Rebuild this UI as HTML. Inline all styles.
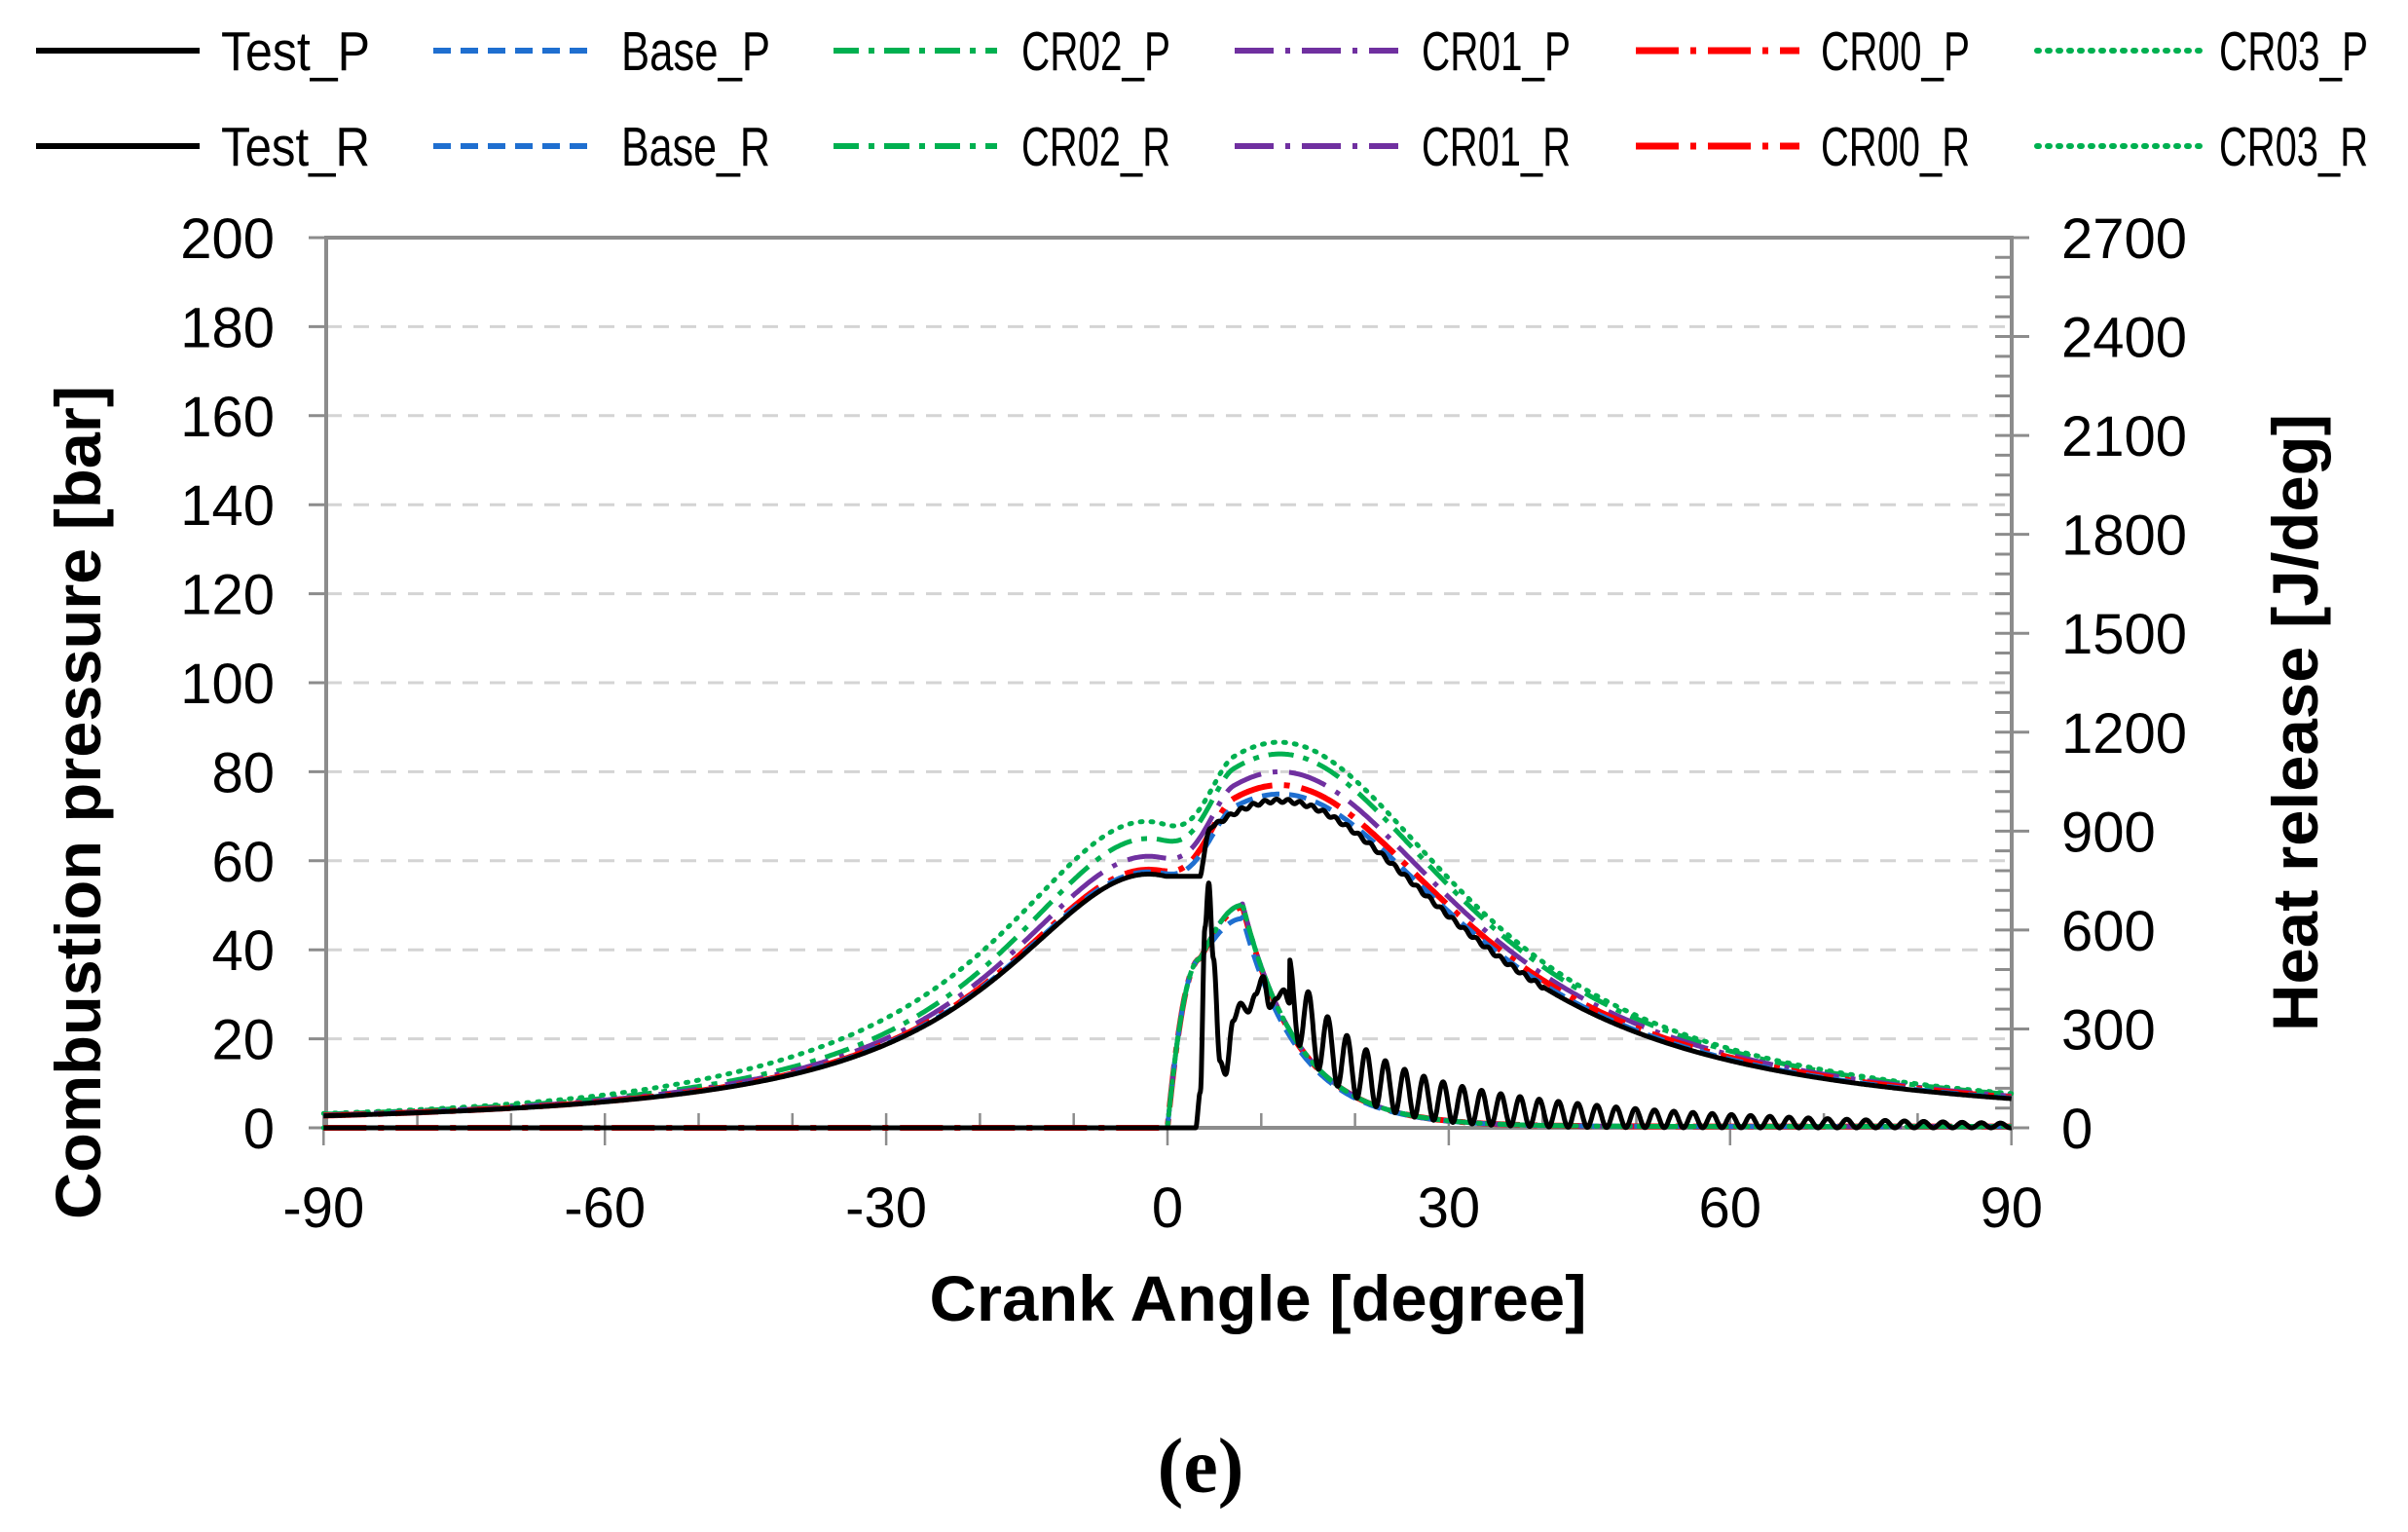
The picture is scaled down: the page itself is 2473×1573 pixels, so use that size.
<!DOCTYPE html>
<html><head><meta charset="utf-8"><style>html,body{margin:0;padding:0;background:#fff}svg{display:block}</style></head>
<body>
<svg id="s" width="2473" height="1573" viewBox="0 0 2473 1573" xmlns="http://www.w3.org/2000/svg">
<rect width="2473" height="1573" fill="#fff"/>
<g id="grid"></g>
<g id="axes"></g>
<g id="curves" fill="none" stroke-linejoin="round"></g>
<g font-family="'Liberation Sans', sans-serif" fill="#000">
 <g id="legend" font-size="57"></g>
 <g id="ticklabels" font-size="58"></g>
 <text x="0" y="0" font-weight="bold" font-size="66" textLength="856" lengthAdjust="spacingAndGlyphs" transform="translate(103,824) rotate(-90)" text-anchor="middle">Combustion pressure [bar]</text>
 <text x="0" y="0" font-weight="bold" font-size="66" textLength="634" lengthAdjust="spacingAndGlyphs" transform="translate(2380,742) rotate(-90)" text-anchor="middle">Heat release [J/deg]</text>
 <text x="1292" y="1356" font-weight="bold" font-size="66" textLength="675" lengthAdjust="spacingAndGlyphs" text-anchor="middle">Crank Angle [degree]</text>
 <text x="1233" y="1532" font-family="'Liberation Serif', serif" font-weight="bold" font-size="80" text-anchor="middle">(e)</text>
</g>
</svg>
<script>
const NS="http://www.w3.org/2000/svg";
function el(p,t,a,txt){const e=document.createElementNS(NS,t);for(const k in a)e.setAttribute(k,a[k]);if(txt!==undefined)e.textContent=txt;document.getElementById(p).appendChild(e);return e;}
const X=t=>1199+t*9.63, Y=p=>1158-p*4.57;
const L=335,R=2066,T=244,B=1158;
for(let v=20;v<=180;v+=20) el('grid','line',{x1:L,x2:R,y1:Y(v),y2:Y(v),stroke:'#d4d4d4','stroke-width':3,'stroke-dasharray':'16 12'});
const ax='#8c8c8c';
el('axes','rect',{x:L,y:T,width:R-L,height:B-T,fill:'none',stroke:ax,'stroke-width':4});
for(let v=0;v<=200;v+=20) el('axes','line',{x1:L-18,x2:L,y1:Y(v),y2:Y(v),stroke:ax,'stroke-width':3});
for(let j=0;j<=2700;j+=60){const y=B-j/2700*(B-T);const maj=j%300===0;el('axes','line',{x1:R-17,x2:maj?R+18:R,y1:y,y2:y,stroke:ax,'stroke-width':3});}
for(let t=-90;t<=90;t+=10){const maj=t%30===0;el('axes','line',{x1:X(t),x2:X(t),y1:maj?B+18:B-15,y2:maj?B-15:B,stroke:ax,'stroke-width':2.5});}
for(let v=0;v<=200;v+=20) el('ticklabels','text',{x:282,y:Y(v)+21,'text-anchor':'end'},String(v));
for(let j=0;j<=2700;j+=300){const y=B-j/2700*(B-T);el('ticklabels','text',{x:2117,y:y+21},String(j));}
for(let t=-90;t<=90;t+=30) el('ticklabels','text',{x:X(t),y:1260,'text-anchor':'middle'},String(t));
const S={
 Test:{c:'#000',w:5,d:'none'},
 Base:{c:'#1f6fd0',w:5,d:'18 10'},
 CR02:{c:'#00b050',w:5,d:'26 10 6 10'},
 CR01:{c:'#7030a0',w:5,d:'40 12 5 12'},
 CR00:{c:'#ff0000',w:6,d:'44 12 6 12'},
 CR03:{c:'#00b050',w:5,d:'2 9',cap:'round'}
};
const order=['Test','Base','CR02','CR01','CR00','CR03'];
const lx=[37,445,856,1268,1680,2092],tx=[227,638,1049,1460,1870,2279];
order.forEach((k,i)=>{[['P',52],['R',150]].forEach(([s,y])=>{
 const st=S[k];el('legend','line',{x1:lx[i],x2:lx[i]+168,y1:y,y2:y,stroke:st.c,'stroke-width':st.w+1,'stroke-dasharray':st.d,'stroke-linecap':st.cap||'butt'});
 const name=k+'_'+s;el('legend','text',{x:tx[i],y:y+20,textLength:name.length*25.5,lengthAdjust:'spacingAndGlyphs'},name);
});});
const sq=x=>x*x;
const lor=(t,a,c,w)=>a/(1+sq((t-c)/w));
const ss=x=>x<=0?0:x>=1?1:x*x*(3-2*x);
function P(t,a1,a2,ts,d,c1){
 const l1=lor(t,a1,c1===undefined?-2:c1,19.6);
 const l2=lor(t,a2,12,24.4);
 return l1+(l2-l1)*ss((t-ts)/d);
}
function path(f,dt){let s='';for(let t=-90;t<=90+1e-9;t+=dt){s+=(s?'L':'M')+X(t).toFixed(1)+','+Y(f(t)).toFixed(1);}return s;}
function draw(k,f,dt){const st=S[k];el('curves','path',{d:path(f,dt||0.2),stroke:st.c,'stroke-width':st.w,'stroke-dasharray':st.d,'stroke-linecap':st.cap||'butt'});}
function simR(t,pk){
 if(t<=0)return 0;
 if(t<3.5)return 38*(1-sq(1-t/3.5));
 if(t<8)return 38+(pk-38)*Math.sin((t-3.5)/4.5*Math.PI/2);
 return pk*Math.exp(-(t-8)/6)+0.3;
}
const tp=[[3,0],[3.5,8],[4,45],[4.4,55],[4.9,38],[5.6,15],[6.2,12],[7,24],[7.8,28],[8.6,26],[9.4,30],[10.2,34],[10.9,27],[11.6,29],[12.4,31],[13,28]];
function testR(t){
 if(t<3)return 0;
 if(t<13){for(let i=0;i<tp.length-1;i++){if(t>=tp[i][0]&&t<=tp[i+1][0]){const u=(t-tp[i][0])/(tp[i+1][0]-tp[i][0]);return tp[i][1]+(tp[i+1][1]-tp[i][1])*(0.5-0.5*Math.cos(u*Math.PI));}}}
 const m=22*Math.exp(-(t-13)/6);
 const A=16*Math.exp(-(t-13)/28);
 return m+A*(0.5+0.5*Math.cos(2*Math.PI*(t-13)/2.05));
}
draw('CR00',t=>simR(t,49.5));
draw('CR01',t=>simR(t,50));
draw('Base',t=>simR(t,47));
draw('CR02',t=>simR(t,50));
draw('CR03',t=>simR(t,50));
draw('Test',testR,0.05);
draw('CR03',t=>P(t,68,86.5,-1,8)*(1+0.12*Math.exp(-sq((t+40)/25))));
draw('CR02',t=>P(t,65,84,-1,8));
draw('CR01',t=>P(t,61,80,-1,8));
draw('CR00',t=>P(t,58,77,-1,8));
draw('Base',t=>P(t,57.5,75,-1,8));
draw('Test',t=>{let p=P(t,57,73.5,3,1.5,-2);if(t>-2&&t<3.5)p=Math.max(p,56.5);return p+(t>5&&t<40?0.4*Math.sin(t*5):0);},0.1);
</script>
</body></html>
